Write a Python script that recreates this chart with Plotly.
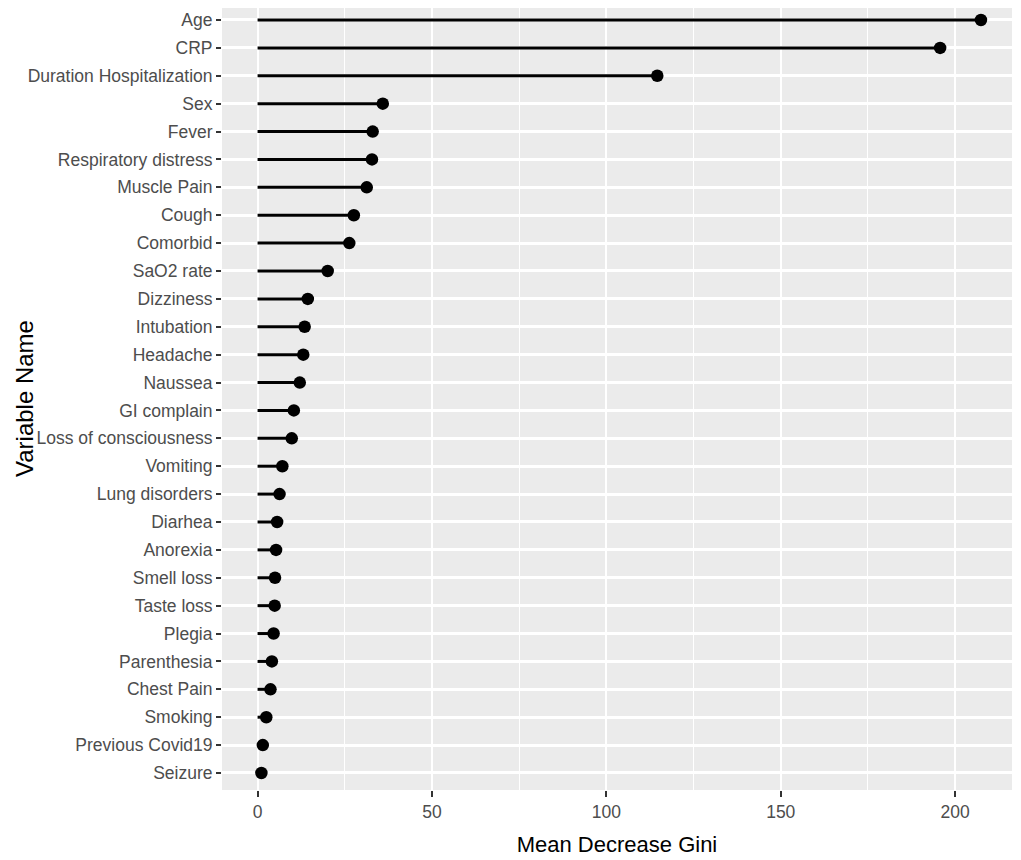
import plotly.graph_objects as go

# ============================================================
# Data — variable importance (Mean Decrease Gini), top to bottom
# ============================================================
VARIABLES = [
    "Age", "CRP", "Duration Hospitalization", "Sex", "Fever",
    "Respiratory distress", "Muscle Pain", "Cough", "Comorbid", "SaO2 rate",
    "Dizziness", "Intubation", "Headache", "Naussea", "GI complain",
    "Loss of consciousness", "Vomiting", "Lung disorders", "Diarhea", "Anorexia",
    "Smell loss", "Taste loss", "Plegia", "Parenthesia", "Chest Pain",
    "Smoking", "Previous Covid19", "Seizure",
]
GINI = [
    207.4, 195.7, 114.6, 35.9, 33.0,
    32.8, 31.3, 27.6, 26.3, 20.1,
    14.4, 13.5, 13.1, 12.1, 10.4,
    9.8, 7.1, 6.3, 5.6, 5.3,
    5.0, 4.9, 4.6, 4.1, 3.7,
    2.5, 1.5, 1.1,
]
X_TICKS = [0, 50, 100, 150, 200]

PANEL_BG = "#EBEBEB"
TEXT_GREY = "#4D4D4D"
FONT = "Liberation Sans, Arial, sans-serif"

# stems: from zero to each value, separated by gaps
stem_x, stem_y = [], []
for name, val in zip(VARIABLES, GINI):
    stem_x += [0, val, None]
    stem_y += [name, name, None]

fig = go.Figure()
fig.add_trace(
    go.Scatter(
        x=stem_x,
        y=stem_y,
        mode="lines",
        line=dict(color="black", width=3),
        showlegend=False,
        hoverinfo="skip",
    )
)
fig.add_trace(
    go.Scatter(
        x=GINI,
        y=VARIABLES,
        mode="markers",
        marker=dict(color="black", size=12.5),
        showlegend=False,
    )
)

# page body has an 8px margin, so the figure is sized/offset to compensate
fig.update_layout(
    width=1013,
    height=852,
    margin=dict(l=214, r=9, t=0, b=70),
    paper_bgcolor="white",
    plot_bgcolor=PANEL_BG,
    font=dict(family=FONT, color=TEXT_GREY),
)
fig.update_xaxes(
    automargin=False,
    range=[-10.2, 216.3],
    tickvals=X_TICKS,
    ticks="outside",
    ticklen=6,
    tickwidth=2,
    tickcolor="#333333",
    tickfont=dict(size=17.5, color=TEXT_GREY),
    showgrid=True,
    gridcolor="white",
    gridwidth=2,
    minor=dict(dtick=25, tick0=25, showgrid=True, gridcolor="white", gridwidth=1),
    zeroline=False,
    showline=False,
    title=dict(text="Mean Decrease Gini", font=dict(size=22, color="black"), standoff=15),
)
fig.update_yaxes(
    automargin=False,
    categoryorder="array",
    categoryarray=list(reversed(VARIABLES)),
    range=[-0.61, len(VARIABLES) - 0.57],
    ticks="outside",
    ticklen=5,
    tickwidth=2,
    tickcolor="#333333",
    tickfont=dict(size=17.5, color=TEXT_GREY),
    showgrid=True,
    gridcolor="white",
    gridwidth=2.5,
    zeroline=False,
    showline=False,
)

# y title placed by hand, well clear of the long tick labels
fig.add_annotation(
    text="Variable Name",
    xref="paper",
    yref="paper",
    x=0,
    y=0.5,
    xanchor="center",
    yanchor="middle",
    xshift=-198,
    textangle=-90,
    showarrow=False,
    borderpad=0,
    font=dict(size=24, color="black"),
)

fig.write_html("out.html")
